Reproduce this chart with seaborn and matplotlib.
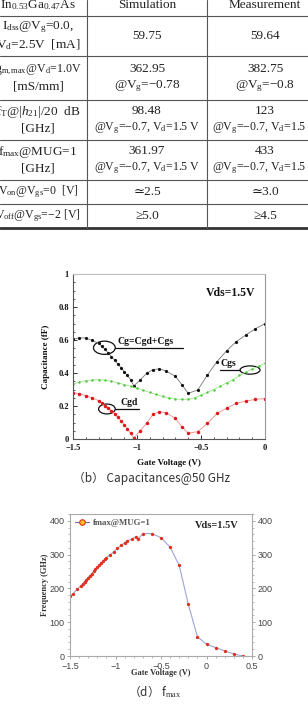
import matplotlib
matplotlib.use("Agg")
import matplotlib.pyplot as plt
import seaborn as sns
from matplotlib.patches import Ellipse
from matplotlib.ticker import MultipleLocator, FuncFormatter

# ---------------------------------------------------------------- table data
header = ["In$_{\\rm 0.53}$Ga$_{\\rm 0.47}$As", "Simulation", "Measurement"]
param_lines = [
    ["I$_{\\rm dss}$@V$_{\\rm g}$=0.0,", "V$_{\\rm d}$=2.5V  [mA]"],
    ["g$_{\\rm m,max}$@V$_{\\rm d}$=1.0V", "[mS/mm]"],
    ["f$_{\\rm T}$@|$h_{21}$|/20  dB", "[GHz]"],
    ["f$_{\\rm max}$@MUG=1", "[GHz]"],
    ["V$_{\\rm on}$@V$_{\\rm gs}$=0  [V]"],
    ["V$_{\\rm off}$@V$_{\\rm gs}$=−2 [V]"],
]
sim_lines = [
    ["59.75"],
    ["362.95", "@V$_{\\rm g}$=−0.78"],
    ["98.48", "@V$_{\\rm g}$=−0.7, V$_{\\rm d}$=1.5 V"],
    ["361.97", "@V$_{\\rm g}$=−0.7, V$_{\\rm d}$=1.5 V"],
    ["≃2.5"],
    ["≥5.0"],
]
meas_lines = [
    ["59.64"],
    ["382.75", "@V$_{\\rm g}$=−0.8"],
    ["123", "@V$_{\\rm g}$=−0.7, V$_{\\rm d}$=1.5 V"],
    ["433", "@V$_{\\rm g}$=−0.7, V$_{\\rm d}$=1.5 V"],
    ["≃3.0"],
    ["≥4.5"],
]

# ---------------------------------------------------------- capacitance data
vg_cap = [-1.5, -1.45, -1.4, -1.35, -1.3, -1.275, -1.25, -1.225, -1.2, -1.175,
          -1.15, -1.125, -1.1, -1.075, -1.05, -1.025, -0.975, -0.925, -0.875,
          -0.825, -0.775, -0.7, -0.65, -0.6, -0.525, -0.45, -0.375, -0.3,
          -0.225, -0.15, -0.075, 0.0]
cg = [0.605, 0.613, 0.612, 0.597, 0.58, 0.562, 0.543, 0.522, 0.50, 0.478,
      0.455, 0.432, 0.408, 0.385, 0.36, 0.322, 0.358, 0.398, 0.421, 0.425,
      0.413, 0.38, 0.33, 0.277, 0.297, 0.388, 0.469, 0.535, 0.59, 0.63,
      0.668, 0.70]
cgd = [0.28, 0.275, 0.262, 0.25, 0.232, 0.218, 0.203, 0.187, 0.17, 0.152,
       0.132, 0.11, 0.087, 0.062, 0.035, 0.005, 0.05, 0.095, 0.15, 0.166,
       0.16, 0.125, 0.075, 0.035, 0.045, 0.095, 0.155, 0.186, 0.216, 0.23,
       0.24, 0.245]
vg_cgs = [-1.5, -1.45, -1.4, -1.35, -1.3, -1.25, -1.2, -1.15, -1.1, -1.05,
          -1.0, -0.95, -0.9, -0.85, -0.8, -0.75, -0.7, -0.65, -0.6, -0.55,
          -0.5, -0.45, -0.4, -0.35, -0.3, -0.25, -0.2, -0.15, -0.1, -0.05, 0.0]
cgs = [0.332, 0.345, 0.353, 0.358, 0.36, 0.357, 0.35, 0.34, 0.33, 0.32,
       0.308, 0.295, 0.282, 0.27, 0.258, 0.25, 0.243, 0.24, 0.242, 0.25,
       0.265, 0.283, 0.30, 0.32, 0.34, 0.36, 0.385, 0.405, 0.425, 0.44, 0.46]

# ---------------------------------------------------------------- fmax data
vg_fmax = [-1.5, -1.47, -1.42, -1.38, -1.36, -1.34, -1.32, -1.30, -1.28,
           -1.26, -1.24, -1.22, -1.20, -1.18, -1.16, -1.14, -1.12, -1.10,
           -1.06, -1.02, -0.98, -0.94, -0.90, -0.87, -0.82, -0.78, -0.75,
           -0.70, -0.60, -0.50, -0.40, -0.30, -0.20, -0.10, 0.0, 0.1, 0.2,
           0.3, 0.4]
fmax = [177, 183, 198, 208, 214, 220, 226, 232, 238, 244, 250, 256, 262, 268,
        274, 280, 286, 291, 299, 308, 318, 327, 335, 341, 345, 353, 346, 362,
        362, 350, 322, 268, 153, 57, 35, 25, 15, 6, 0]

# ------------------------------------------------------------------ style
sns.set_theme(style="white")
plt.rcParams["font.family"] = ["Liberation Serif", "DejaVu Serif"]
plt.rcParams["mathtext.fontset"] = "custom"
plt.rcParams["mathtext.rm"] = "Liberation Serif"
plt.rcParams["mathtext.it"] = "Liberation Serif:italic"
plt.rcParams["mathtext.bf"] = "Liberation Serif:bold"

W, H = 308, 705
fig = plt.figure(figsize=(W / 100, H / 100), dpi=100)
fig.patch.set_facecolor("white")

# ------------------------------------------------------------------ table
tab_h = 235
tax = fig.add_axes([0, 1 - tab_h / H, 1, tab_h / H])
tax.set_xlim(0, W)
tax.set_ylim(tab_h, 0)
tax.axis("off")

row_edges = [16, 56, 100, 140, 180, 204, 228]
col_x = [38, 147, 265]
txt_kw = dict(ha="center", va="center", color="#222",
              family=["Liberation Serif", "DejaVu Serif"])

for cx, label in zip(col_x, header):
    tax.text(cx, 5, label, fontsize=9.5, **txt_kw)

for i, (p, s, m) in enumerate(zip(param_lines, sim_lines, meas_lines)):
    centre = (row_edges[i] + row_edges[i + 1]) / 2
    for cx, lines in zip(col_x, (p, s, m)):
        n = len(lines)
        for k, line in enumerate(lines):
            y = centre + (k - (n - 1) / 2) * 17
            size = 8.6 if len(line) > 30 else 9.5
            tax.text(cx, y, line, fontsize=size, **txt_kw)

for y in row_edges[:-1]:
    tax.plot([0, W], [y, y], color="#555", lw=0.8, clip_on=False)
tax.plot([0, W], [row_edges[-1], row_edges[-1]], color="#333", lw=2,
         clip_on=False)
for x in (87, 207):
    tax.plot([x, x], [0, row_edges[-1]], color="#555", lw=0.8, clip_on=False)

# ------------------------------------------------------------ capacitance
ax1 = fig.add_axes([73 / W, 1 - 439 / H, 192 / W, 165 / H])
sns.lineplot(x=vg_cap, y=cg, ax=ax1, color="#777", lw=0.6, marker="o",
             markersize=2.3, markerfacecolor="#111", markeredgewidth=0)
sns.lineplot(x=vg_cgs, y=cgs, ax=ax1, color="#9be58a", lw=0.6, marker="o",
             markersize=1.7, markerfacecolor="#3ecb2a", markeredgewidth=0)
sns.lineplot(x=vg_cap, y=cgd, ax=ax1, color="#f08a8a", lw=0.6, marker="o",
             markersize=2.5, markerfacecolor="#e01818", markeredgewidth=0)
ax1.set_xlim(-1.5, 0)
ax1.set_ylim(0, 1)
ax1.xaxis.set_major_locator(MultipleLocator(0.5))
ax1.xaxis.set_minor_locator(MultipleLocator(0.1))
ax1.yaxis.set_major_locator(MultipleLocator(0.2))
ax1.yaxis.set_minor_locator(MultipleLocator(0.05))
fmt = FuncFormatter(lambda v, p: f"{v:g}".replace("-", "−"))
ax1.xaxis.set_major_formatter(fmt)
ax1.yaxis.set_major_formatter(fmt)
ax1.tick_params(which="both", direction="in", top=False, right=False,
                left=True, bottom=True, colors="#111")
ax1.tick_params(which="major", length=3, width=0.6, labelsize=6)
ax1.tick_params(which="minor", length=1.5, width=0.5)
ax1.tick_params(axis="x", pad=3.5)
ax1.tick_params(axis="y", pad=3)
for lab in ax1.get_xticklabels() + ax1.get_yticklabels():
    lab.set_fontweight("bold")
for side, c in (("left", "#555"), ("bottom", "#555"), ("top", "#bbb"),
                ("right", "#999")):
    ax1.spines[side].set_color(c)
    ax1.spines[side].set_linewidth(0.8)
ax1.set_xlabel("Gate Voltage (V)", fontsize=6.5, fontweight="bold", color="#111")
ax1.set_ylabel("Capacitance (fF)", fontsize=6.5, fontweight="bold", color="#111")
ax1.xaxis.set_label_coords(0.5, -0.12)
ax1.yaxis.set_label_coords(-0.12, 0.5)

# callouts: ellipse centre, size, leader end, label position
callouts = [
    ("Cg=Cgd+Cgs", (-1.255, 0.553), (0.17, 0.08), -0.64, (-1.15, 0.565)),
    ("Cgd", (-1.235, 0.182), (0.13, 0.06), -0.985, (-1.13, 0.195)),
    ("Cgs", (-0.117, 0.418), (0.156, 0.05), -0.35, (-0.345, 0.43)),
]
for text, (ex, ey), (ew, eh), lx, (tx, ty) in callouts:
    ax1.add_patch(Ellipse((ex, ey), ew, eh, fill=False, ec="#111", lw=0.9))
    edge = ex + ew / 2 if lx > ex else ex - ew / 2
    ax1.plot([edge, lx], [ey, ey], color="#111", lw=0.9)
    ax1.text(tx, ty, text, ha="left", va="bottom", fontsize=7,
             fontweight="bold", color="#111")
ax1.text(-0.27, 0.885, "Vds=1.5V", ha="center", va="center", fontsize=8.5,
         fontweight="bold", color="#111")

fig.text(152 / W, 1 - 478 / H, "（b） Capacitances@50 GHz", ha="center",
         va="center", fontsize=8.5, color="#333",
         family=["Noto Sans CJK KR", "DejaVu Sans"])

# ------------------------------------------------------------------ fmax
ax2 = fig.add_axes([70 / W, 1 - 656 / H, 182 / W, 142 / H])
sns.lineplot(x=vg_fmax, y=fmax, ax=ax2, color="#9aa4dc", lw=0.8, marker="o",
             markersize=2.4, markerfacecolor="#e0301e", markeredgewidth=0,
             label="fmax@MUG=1")
ax2.set_xlim(-1.5, 0.5)
ax2.set_ylim(0, 420)
ax2.xaxis.set_major_locator(MultipleLocator(0.5))
ax2.xaxis.set_minor_locator(MultipleLocator(0.1))
ax2.yaxis.set_major_locator(MultipleLocator(100))
ax2.yaxis.set_minor_locator(MultipleLocator(20))
ax2.xaxis.set_major_formatter(fmt)
ax2.tick_params(which="both", direction="out", left=True, bottom=True,
                right=True, labelright=True, colors="#999", labelcolor="#444",
                pad=1.5)
ax2.tick_params(which="major", length=2.5, width=0.6, labelsize=6.5)
ax2.tick_params(which="minor", length=1.3, width=0.5)
for t in ax2.xaxis.get_major_ticks() + ax2.yaxis.get_major_ticks():
    t.label1.set_family(["Liberation Sans", "DejaVu Sans"])
    t.label2.set_family(["Liberation Sans", "DejaVu Sans"])
for sp in ax2.spines.values():
    sp.set_color("#aaa")
    sp.set_linewidth(0.8)
ax2.set_xlabel("Gate Voltage (V)", fontsize=6, fontweight="bold", color="#333")
ax2.set_ylabel("Frequency (GHz)", fontsize=6, fontweight="bold", color="#333")
ax2.xaxis.set_label_coords(0.5, -0.095)
ax2.yaxis.set_label_coords(-0.115, 0.5)
leg = ax2.legend(loc="upper left", frameon=False,
                 handlelength=1.6, handletextpad=0.4, borderaxespad=0.2,
                 prop=dict(family="Liberation Serif", weight="bold", size=6.3))
for t in leg.get_texts():
    t.set_color("#555")
h = leg.legend_handles[0]
h.set_markerfacecolor("#ffc020")
h.set_markeredgecolor("#e0301e")
h.set_markeredgewidth(0.8)
h.set_markersize(4)
h.set_color("#6a6ad0")
ax2.text(0.11, 387, "Vds=1.5V", ha="center", va="center", fontsize=7.5,
         fontweight="bold", color="#222")

fig.text(155 / W, 1 - 692 / H, "（d） f$_{\\rm max}$", ha="center",
         va="center", fontsize=8.5, color="#333",
         family=["Noto Sans CJK KR", "DejaVu Sans"])

fig.savefig("out.png", dpi=100)
